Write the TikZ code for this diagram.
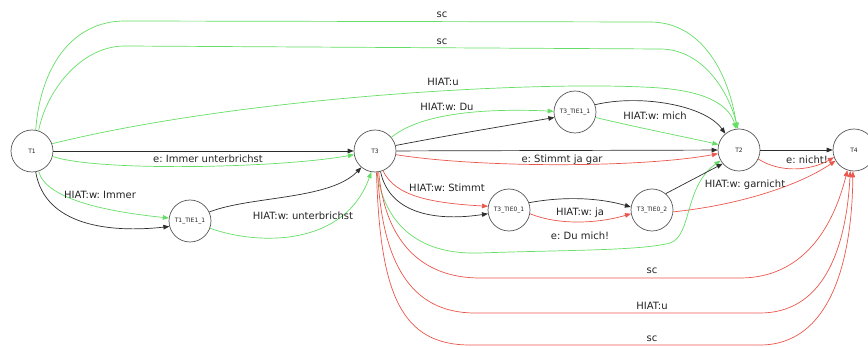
\documentclass[tikz,border=0pt]{standalone}
\usepackage{fontspec}
\setmainfont{DejaVu Sans}
\usetikzlibrary{arrows.meta}
\definecolor{egreen}{RGB}{100,222,100}
\definecolor{ered}{RGB}{234,86,76}
\definecolor{eblack}{RGB}{45,45,45}
\definecolor{ring}{RGB}{85,85,85}
\definecolor{lbl}{RGB}{35,35,35}
\frenchspacing
\begin{document}
\begin{tikzpicture}[x=1pt,y=-1pt,
  state/.style={circle,draw=ring,line width=0.7pt,minimum size=42pt,inner sep=0pt,
    font=\fontsize{6}{7}\selectfont,text=lbl},
  edge/.style={line width=0.7pt,-{Triangle[length=6pt,width=4.6pt]}},
  ge/.style={edge,color=egreen},
  re/.style={edge,color=ered},
  be/.style={edge,color=eblack},
  lab/.style={font=\fontsize{10}{12}\selectfont\frenchspacing,text=lbl,inner sep=0pt}]
\useasboundingbox (0,0) rectangle (868,347);

% states
\node[state] (T1) at (32,151) {T1};
\node[state] (T3) at (375,151) {T3};
\node[state] (T2) at (739,150) {T2};
\node[state] (T4) at (854,150) {T4};
\node[state] (T1TIE11) at (190,221) {T1\_TIE1\_1};
\node[state] (T3TIE11) at (575,112) {T3\_TIE1\_1};
\node[state] (T3TIE01) at (509,210) {T3\_TIE0\_1};
\node[state] (T3TIE02) at (652,210) {T3\_TIE0\_2};

% T1 -> T2 over the top
\draw[ge] (T1.80) .. controls (40,70) and (70,21) .. (125,21) -- (650,22)
  .. controls (700,22) and (728,70) .. (T2.95);
\draw[ge] (T1.72) .. controls (46,92) and (80,46) .. (125,46) -- (660,49)
  .. controls (702,49) and (728,90) .. (T2.93);
\draw[ge] (T1.20) .. controls (250,95) and (550,80) .. (660,88)
  .. controls (712,92) and (730,108) .. (T2.98);
\node[lab] (lsc1) at (442,15) {sc};
\node[lab] (lsc2) at (442,42) {sc};
\node[lab] (lu1) at (443,82) {HIAT:u};

% T1 -> T3
\draw[be] (T1) -- (T3);
\draw[ge] (T1.-15) .. controls (100,172) and (280,168) .. (T3.190);
\node[lab] (limmer) at (208,159) {e: Immer unterbrichst};

% T1 -> T1_TIE1_1
\draw[ge] (T1.-72) .. controls (46,200) and (110,212) .. (T1TIE11.172);
\draw[be] (T1.-80) .. controls (45,226) and (110,233) .. (T1TIE11.195);
\node[lab] (lwimmer) at (100,195) {HIAT:w: Immer};

% T1_TIE1_1 -> T3
\draw[be] (T1TIE11.25) .. controls (250,196) and (330,200) .. (T3.-130);
\draw[ge] (T1TIE11.-20) .. controls (260,246) and (345,246) .. (T3.-100);
\node[lab] (lwunter) at (303,216) {HIAT:w: unterbrichst};

% T3 -> T3_TIE1_1
\draw[ge] (T3.40) .. controls (420,114) and (480,108) .. (T3TIE11.178);
\draw[be] (T3.15) .. controls (450,135) and (510,125) .. (T3TIE11.195);
\node[lab] (lwdu) at (447,107) {HIAT:w: Du};

% T3_TIE1_1 -> T2
\draw[be] (T3TIE11.20) .. controls (640,94) and (705,105) .. (T2.130);
\draw[ge] (T3TIE11.-15) .. controls (640,128) and (690,138) .. (T2.165);
\node[lab] (lwmich) at (655,116) {HIAT:w: mich};

% T3 -> T2
\draw[be] (T3) -- (T2);
\draw[re] (T3.-10) .. controls (480,168) and (640,168) .. (T2.-170);
\node[lab] (lstimmt) at (562,160) {e: Stimmt ja gar};

% T3 -> T3_TIE0_1
\draw[re] (T3.-68) .. controls (395,196) and (430,203) .. (T3TIE01.170);
\draw[be] (T3.-75) .. controls (390,216) and (440,221) .. (T3TIE01.190);
\node[lab] (lwstimmt) at (447,188) {HIAT:w: Stimmt};

% T3_TIE0_1 -> T3_TIE0_2
\draw[be] (T3TIE01.20) .. controls (565,196) and (600,198) .. (T3TIE02.172);
\draw[re] (T3TIE01.-10) .. controls (560,226) and (600,223) .. (T3TIE02.-170);
\node[lab] (lwja) at (580,213) {HIAT:w: ja};
\node[lab] (ldumich) at (580,236) {e: Du mich!};

% T3 -> T2 round the lower pair
\draw[ge] (T3.-85) .. controls (385,226) and (420,255) .. (480,253)
  .. controls (560,250) and (640,251) .. (670,243)
  .. controls (692,236) and (684,186) .. (T2.-150);

% T3_TIE0_2 -> T2, T4
\draw[be] (T3TIE02.50) -- (T2.-140);
\draw[re] (T3TIE02.-5) .. controls (740,205) and (800,185) .. (T4.-150);
\node[lab] (lwgar) at (745,185) {HIAT:w: garnicht};

% T2 -> T4
\draw[be] (T2) -- (T4);
\draw[re] (T2.-25) .. controls (780,173) and (810,171) .. (T4.-160);
\node[lab] (lnicht) at (807,160) {e: nicht!};

% T3 -> T4 underneath
\draw[re] (T3.-80) .. controls (385,240) and (420,278) .. (480,278) -- (740,278)
  .. controls (800,278) and (832,232) .. (T4.-108);
\draw[re] (T3.-83) .. controls (382,262) and (410,313) .. (475,313) -- (760,313)
  .. controls (822,313) and (846,252) .. (T4.-100);
\draw[re] (T3.-86) .. controls (380,292) and (400,345) .. (470,345) -- (760,345)
  .. controls (830,345) and (852,262) .. (T4.-93);
\node[lab] (lsc3) at (652,271) {sc};
\node[lab] (lu2) at (652,306) {HIAT:u};
\node[lab] (lsc4) at (652,339) {sc};
\end{tikzpicture}
\end{document}
